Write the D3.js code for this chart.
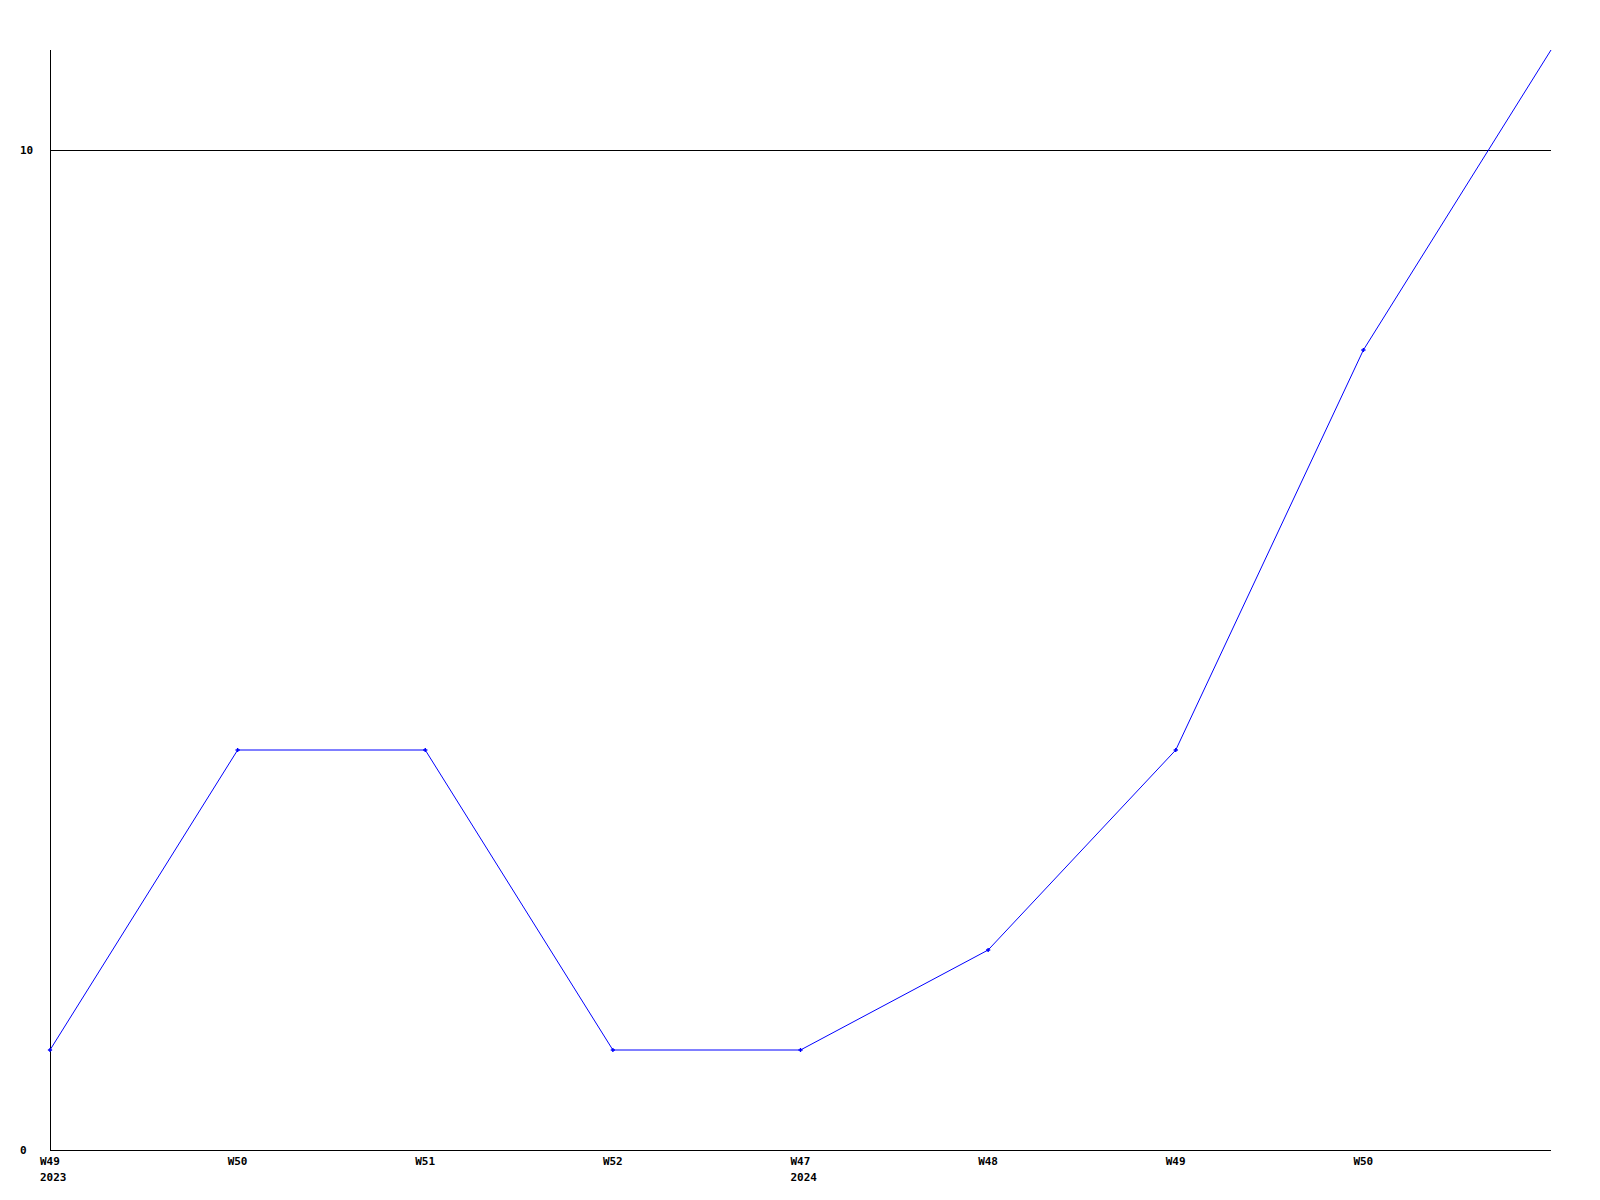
<!DOCTYPE html>
<html><head><meta charset="utf-8">
<script src="https://cdn.jsdelivr.net/npm/d3@7"></script>
<style>body{margin:0;background:#fff}svg{display:block}text{font-family:"DejaVu Sans Mono",monospace;font-weight:bold;font-size:11px;fill:#000}</style>
</head><body><svg id="c" width="1600" height="1200"></svg>
<script>
const weeks = ["W49","W50","W51","W52","W47","W48","W49","W50","W51"];
const years = ["2023","","","","2024","","","",""];
const showLabel = [true,true,true,true,true,true,true,true,false];
const values = [1,4,4,1,1,2,4,8,11];
const yTicks = [0,10];

(function(){
const svg = d3.select("#c");
const mL = 50, mR = 1551, mT = 50, mB = 1150;
const x = d3.scaleLinear().domain([0, weeks.length-1]).range([mL, mR]);
const y = d3.scaleLinear().domain([0, 11]).range([mB, mT]);

svg.append("g").selectAll("line").data(yTicks.filter(d=>d>0)).join("line")
  .attr("x1", mL).attr("x2", mR)
  .attr("y1", d=>Math.round(y(d))+0.5).attr("y2", d=>Math.round(y(d))+0.5)
  .attr("stroke","#000").attr("shape-rendering","crispEdges");

svg.append("line").attr("x1",mL+0.5).attr("x2",mL+0.5).attr("y1",mT).attr("y2",mB+1)
  .attr("stroke","#000").attr("shape-rendering","crispEdges");
svg.append("line").attr("x1",mL).attr("x2",mR).attr("y1",mB+0.5).attr("y2",mB+0.5)
  .attr("stroke","#000").attr("shape-rendering","crispEdges");

svg.append("g").selectAll("text").data(yTicks).join("text")
  .attr("x",20).attr("y",d=>y(d)+4).text(d=>d);

const idx = d3.range(weeks.length).filter(i=>showLabel[i]);
svg.append("g").selectAll("text").data(idx).join("text")
  .attr("x",i=>x(i)-10).attr("y",mB+15).text(i=>weeks[i]);
svg.append("g").selectAll("text").data(idx.filter(i=>years[i])).join("text")
  .attr("x",i=>x(i)-10).attr("y",mB+31).text(i=>years[i]);

svg.append("path").datum(values)
  .attr("d", d3.line().x((d,i)=>x(i)).y(d=>y(d)))
  .attr("fill","none").attr("stroke","#0000ff").attr("stroke-width",1);

const pts = values.map((v,i)=>({v,i})).filter(p=>p.i < values.length-1);
svg.append("g").selectAll("path").data(pts).join("path")
  .attr("transform",p=>`translate(${x(p.i)},${y(p.v)})`)
  .attr("d", d3.symbol(d3.symbolCross, 10))
  .attr("fill","#0000ff");
})();
</script></body></html>
